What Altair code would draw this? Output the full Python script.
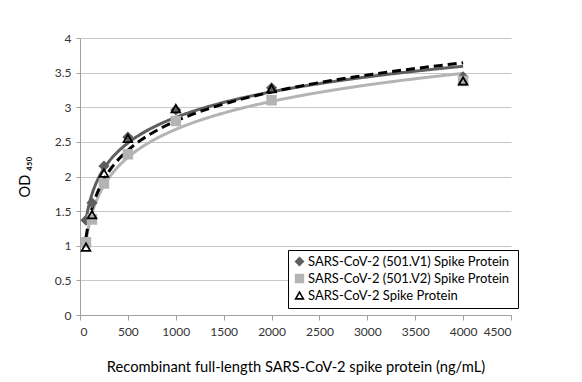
import altair as alt
import pandas as pd

conc = [62.5, 125, 250, 500, 1000, 2000, 4000]
series_names = [
    "SARS-CoV-2  (501.V1) Spike Protein",
    "SARS-CoV-2  (501.V2) Spike Protein",
    "SARS-CoV-2  Spike Protein",
]
od_v1 = [1.37, 1.62, 2.15, 2.57, 2.96, 3.28, 3.44]
od_v2 = [1.05, 1.38, 1.90, 2.32, 2.80, 3.10, 3.38]
od_wt = [0.98, 1.45, 2.05, 2.55, 2.98, 3.27, 3.38]
x_ticks = [0, 500, 1000, 1500, 2000, 2500, 3000, 3500, 4000, 4500]
y_ticks = [0, 0.5, 1, 1.5, 2, 2.5, 3, 3.5, 4]
line_colors = ["#5f5f5f", "#b4b4b4", "#000000"]
line_dashes = [[1, 0], [1, 0], [9, 5]]

rows = []
for name, vals in zip(series_names, [od_v1, od_v2, od_wt]):
    for c, v in zip(conc, vals):
        rows.append({"conc": c, "od": v, "series": name})
df = pd.DataFrame(rows)

FONT = "Lato"
x_scale = alt.Scale(domain=[0, 4500], nice=False)
y_scale = alt.Scale(domain=[0, 4], nice=False)

x_axis = alt.Axis(values=x_ticks, format="d", title="Recombinant full-length SARS-CoV-2 spike protein (ng/mL)",
                  grid=False, domainColor="#a0a0a0", tickColor="#a0a0a0", tickSize=5,
                  labelFont=FONT, labelFontSize=12, labelColor="#333", labelPadding=6,
                  labelOverlap=False,
                  titleFont=FONT, titleFontSize=14.7, titleFontWeight="normal", titleColor="#000",
                  titlePadding=22)
y_axis = alt.Axis(values=y_ticks, format="~g", title="OD ₄₅₀",
                  grid=True, gridColor="#c8c8c8", domainColor="#a0a0a0", tickColor="#a0a0a0", tickSize=4,
                  labelFont=FONT, labelFontSize=12, labelColor="#333", labelPadding=5,
                  labelOverlap=False,
                  titleFont=FONT, titleFontSize=14.5, titleFontWeight="normal", titleColor="#000",
                  titlePadding=22)

base = alt.Chart(df)

line_layers = []
for name, col, dash in zip(series_names, line_colors, line_dashes):
    line_layers.append(
        base.transform_filter(alt.datum.series == name)
        .transform_regression("conc", "od", method="log")
        .mark_line(strokeWidth=3, color=col, strokeDash=dash)
        .encode(
            x=alt.X("conc:Q", scale=x_scale, axis=x_axis),
            y=alt.Y("od:Q", scale=y_scale, axis=y_axis),
        )
    )

legend = alt.Legend(title=None, orient="none", legendX=208, legendY=212,
                    strokeColor="#000", padding=5, labelFont=FONT, labelFontSize=13,
                    labelColor="#000", symbolSize=60, rowPadding=2, symbolStrokeWidth=1.6,
                    labelOffset=2, labelLimit=400, fillColor="white")

points = base.mark_point(filled=True, size=75, strokeWidth=1.8, opacity=1).encode(
    x=alt.X("conc:Q", scale=x_scale, axis=x_axis),
    y=alt.Y("od:Q", scale=y_scale, axis=y_axis),
    shape=alt.Shape("series:N", scale=alt.Scale(domain=series_names, range=["diamond", "square", "triangle-up"]),
                    legend=legend),
    fill=alt.Fill("series:N", scale=alt.Scale(domain=series_names, range=["#5f5f5f", "#b4b4b4", "rgba(255,255,255,0)"]),
                  legend=legend),
    stroke=alt.Stroke("series:N", scale=alt.Scale(domain=series_names, range=["#5f5f5f", "#b4b4b4", "#000000"]),
                      legend=legend),
)

chart = alt.layer(*line_layers, points).properties(
    width=431, height=277,
    autosize=alt.AutoSizeParams(type="none"),
    padding={"left": 72, "top": 30, "right": 63, "bottom": 66},
).configure_view(stroke=None)

chart.save("out.html", embed_options={"renderer": "svg", "actions": False})
